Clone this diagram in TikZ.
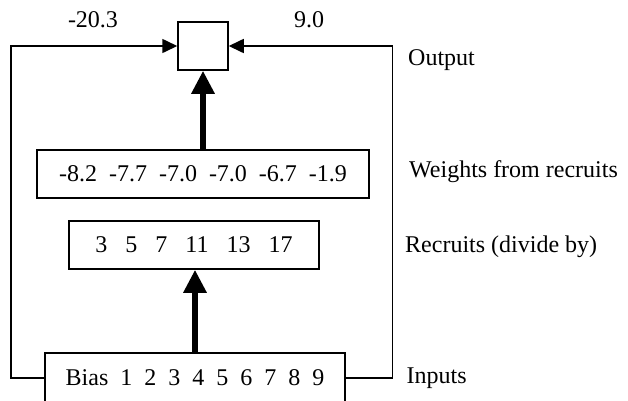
\documentclass[tikz,border=0pt]{standalone}
\usepackage{fontspec}
\setmainfont{Liberation Serif}
\usetikzlibrary{arrows.meta}
\tikzset{
  box/.style={draw=black, line width=1.5pt, fill=white, inner sep=0pt, font=\fontsize{24}{28}\selectfont},
  wire/.style={draw=black, line width=1.6pt, -{Triangle[length=15pt,width=14pt]}},
  fat/.style={draw=black, line width=6pt, -{Triangle[length=23pt,width=22pt]}},
  lab/.style={font=\fontsize{24}{28}\selectfont, inner sep=0pt},
}

\begin{document}
\begin{tikzpicture}[x=1pt,y=-1pt]
  \useasboundingbox (0,0) rectangle (628,400);
  % boxes
  \node[box, minimum width=50pt, minimum height=48pt] (out) at (203,46) {};
  \node[box, minimum width=332pt, minimum height=48pt] (wts) at (203,174)
    {-8.2~~-7.7~~-7.0~~-7.0~~-6.7~~-1.9};
  \node[box, minimum width=250pt, minimum height=48pt] (rec) at (194,245)
    {3~~~5~~~7~~~11~~~13~~~17};
  \node[box, minimum width=300pt, minimum height=50pt] (inp) at (195,378)
    {Bias~~1~~2~~3~~4~~5~~6~~7~~8~~9};
  % side wires
  \coordinate (lc) at (11,378);
  \coordinate (rc) at (392.5,378);
  \draw[wire] (inp.west) -- (lc) |- (out.west);
  \draw[wire] (inp.east) -- (rc) |- (out.east);
  % fat arrows
  \draw[fat] (inp.north) -- (inp.north |- rec.south);
  \draw[fat] (out.south |- wts.north) -- (out.south);
  % labels
  \node[lab, anchor=base] (wl) at (93,27) {-20.3};
  \node[lab, anchor=base] (wr) at (309,27) {9.0};
  \node[lab, anchor=base west] (lo) at (408,65) {Output};
  \node[lab, anchor=base west] (lw) at (409,177) {Weights from recruits};
  \node[lab, anchor=base west] (lr) at (405,252) {Recruits (divide by)};
  \node[lab, anchor=base west] (li) at (406.5,383) {Inputs};
\end{tikzpicture}
\end{document}
